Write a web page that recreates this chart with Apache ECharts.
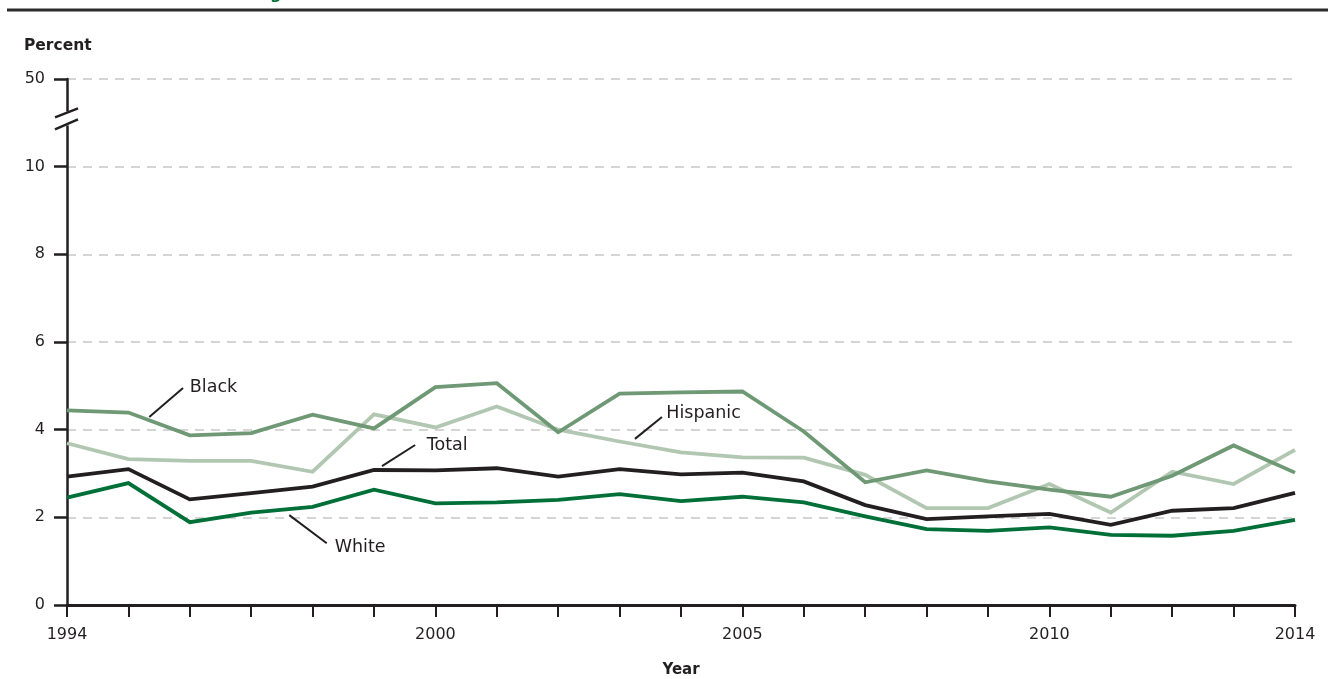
<!DOCTYPE html>
<html>
<head>
<meta charset="utf-8">
<script src="https://cdn.jsdelivr.net/npm/echarts@6/dist/echarts.min.js"></script>
<style>
html,body{margin:0;padding:0;background:#fff;}
#chart{width:1328px;height:679px;}
</style>
</head>
<body>
<div id="chart"></div>
<script>
// ---- Data (percent) ----
const years = [1994,1995,1996,1997,1998,1999,2000,2001,2002,2003,2004,2005,2006,2007,2008,2009,2010,2011,2012,2013,2014];
const black    = [4.44,4.39,3.87,3.92,4.34,4.03,4.97,5.06,3.94,4.82,4.85,4.87,3.96,2.80,3.07,2.82,2.63,2.47,2.95,3.64,3.02];
const hispanic = [3.69,3.33,3.29,3.29,3.04,4.35,4.05,4.53,4.00,3.73,3.48,3.37,3.36,2.97,2.21,2.21,2.76,2.11,3.04,2.76,3.54];
const total    = [2.93,3.10,2.41,2.55,2.70,3.08,3.07,3.12,2.93,3.10,2.98,3.02,2.82,2.28,1.96,2.02,2.08,1.83,2.15,2.21,2.56];
const white    = [2.45,2.78,1.89,2.11,2.24,2.63,2.32,2.34,2.40,2.53,2.37,2.47,2.34,2.02,1.73,1.69,1.77,1.60,1.58,1.69,1.94];
const xLabelYears = [1994,2000,2005,2010,2014];
const yTickLabels = {0:'0',2:'2',4:'4',6:'6',8:'8',10:'10',12:'50'};
// annotation: [label, lineStart [year,value], lineEnd [year,value], text anchor [year,value]]
const annotations = [
  ['Black',    [1995.34,4.29],[1995.89,4.95],[1996.00,4.97]],
  ['Total',    [1999.13,3.17],[1999.67,3.65],[1999.86,3.65]],
  ['White',    [1997.62,2.05],[1998.23,1.41],[1998.36,1.32]],
  ['Hispanic', [2003.25,3.79],[2003.69,4.29],[2003.76,4.38]]
];

(function(){
const FONT = 'DejaVu Sans';
const INK = '#231f20';
const colors = {black:'#6f9874', hispanic:'#b2c7b1', total:'#231f20', white:'#006f38'};

function pairs(arr){ return years.map((y,i)=>[y,arr[i]]); }
function mkSeries(name, arr, color, z){
  return {name, type:'line', data:pairs(arr), symbol:'none', z,
    lineStyle:{color, width:3.8, join:'miter'}, emphasis:{disabled:true}};
}

const chart = echarts.init(document.getElementById('chart'), null, {renderer:'canvas'});
chart.setOption({
  animation:false,
  backgroundColor:'#fff',
  textStyle:{fontFamily:FONT},
  grid:{left:67, right:33, top:79, bottom:74, containLabel:false, outerBoundsMode:'none'},
  xAxis:{
    type:'value', min:1994, max:2014, interval:1,
    name:'Year', nameLocation:'middle', nameGap:58,
    nameTextStyle:{fontFamily:FONT, fontSize:15, fontWeight:'bold', color:INK},
    axisLine:{show:true, onZero:false, lineStyle:{color:INK, width:3}},
    axisTick:{show:true, length:12, lineStyle:{color:INK, width:2}},
    axisLabel:{fontFamily:FONT, fontSize:16, color:INK, margin:22,
      showMinLabel:true, showMaxLabel:true,
      formatter:v=> xLabelYears.indexOf(v)>=0 ? String(v) : ''},
    splitLine:{show:false}
  },
  yAxis:{
    type:'value', min:0, max:12, interval:2,
    axisLine:{show:true, lineStyle:{color:INK, width:2.5}},
    axisTick:{show:true, length:13, lineStyle:{color:INK, width:2.5}},
    axisLabel:{fontFamily:FONT, fontSize:16, color:INK, margin:22,
      formatter:v=> yTickLabels[v] !== undefined ? yTickLabels[v] : ''},
    splitLine:{show:true, lineStyle:{color:'#c8c8c8', width:1.5, type:[9,7]}}
  },
  series:[
    mkSeries('Hispanic', hispanic, colors.hispanic, 2),
    mkSeries('Black', black, colors.black, 3),
    mkSeries('Total', total, colors.total, 4),
    mkSeries('White', white, colors.white, 5)
  ]
});

const g = [];
const px = p => chart.convertToPixel({gridIndex:0}, p);
annotations.forEach(a=>{
  const p1 = px(a[1]), p2 = px(a[2]), pt = px(a[3]);
  g.push({type:'line', shape:{x1:p1[0],y1:p1[1],x2:p2[0],y2:p2[1]}, style:{stroke:INK, lineWidth:2}, z:10});
  g.push({type:'text', x:pt[0], y:pt[1], style:{text:a[0], fontFamily:FONT, fontSize:17.5, fill:INK, textAlign:'left', textVerticalAlign:'middle'}, z:10});
});
// axis break between 10 and 50
const bc = px([1994, 11.1]);
const bx = bc[0], by = bc[1];
g.push({type:'rect', shape:{x:bx-6, y:by-7, width:12, height:14}, style:{fill:'#fff'}, z:20});
g.push({type:'line', shape:{x1:bx-12,y1:by-1,x2:bx+11,y2:by-10}, style:{stroke:INK, lineWidth:2.5}, z:21});
g.push({type:'line', shape:{x1:bx-12,y1:by+11,x2:bx+11,y2:by+1}, style:{stroke:INK, lineWidth:2.5}, z:21});
// "Percent" axis title
const topPt = px([1994, 12]);
g.push({type:'text', x:24, y:topPt[1]-33, style:{text:'Percent', fontFamily:FONT, fontSize:15.5, fontWeight:'bold', fill:INK, textAlign:'left', textVerticalAlign:'middle'}, z:10});
// header rule and clipped title remnant
g.push({type:'line', shape:{x1:7,y1:10,x2:1328,y2:10}, style:{stroke:'#2b2b2b', lineWidth:3}, z:10});
g.push({type:'text', x:270, y:-13, style:{text:'g', fontFamily:FONT, fontSize:16, fontWeight:'bold', fill:'#006f38'}, z:9});
chart.setOption({graphic:g});
})();
</script>
</body>
</html>
